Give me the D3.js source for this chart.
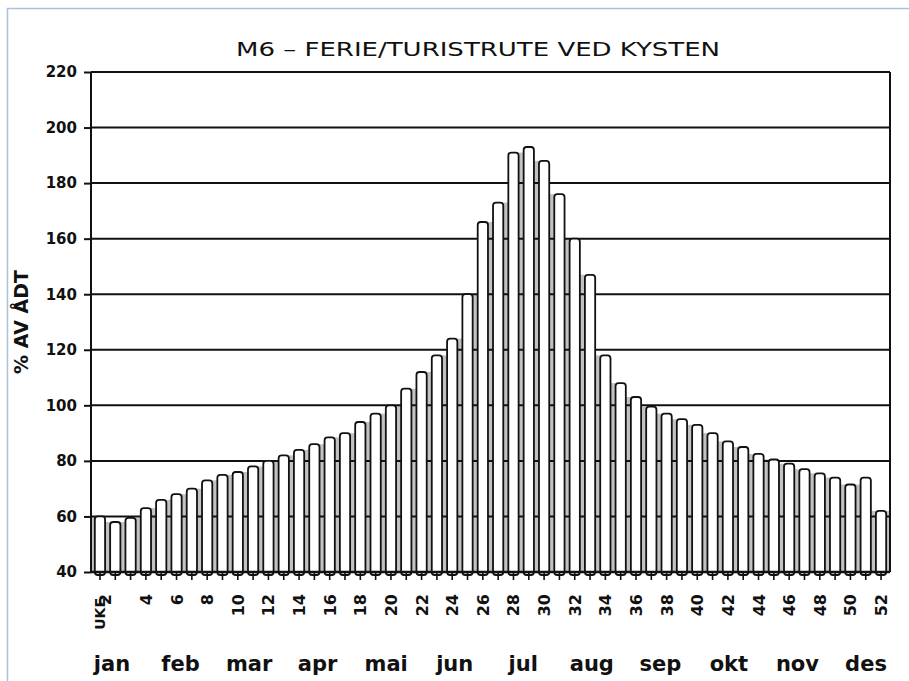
<!DOCTYPE html>
<html lang="no">
<head>
<meta charset="UTF-8">
<title>M6 - Ferie/turistrute ved kysten</title>
<script src="https://cdn.jsdelivr.net/npm/d3@7/dist/d3.min.js"></script>
<style>
  body {
    margin: 0;
    background: #fff;
  }
  svg text {
    fill: #111;
  }
  .title {
    font-family: "DejaVu Sans Condensed", "Liberation Sans Narrow", sans-serif;
    font-size: 20px;
  }
  .ytick, .wtick {
    font-family: "DejaVu Sans", sans-serif;
    font-weight: bold;
  }
  .month {
    font-family: "DejaVu Sans", sans-serif;
    font-size: 21px;
    font-weight: 600;
  }
</style>
</head>
<body>
<div id="chart"></div>
<script>
  // weekly traffic as % of AADT (uke 1..52)
  var weeks = d3.range(1, 53);
  var values = [
    60, 58, 59.5, 63, 66, 68, 70, 73, 75, 76,
    78, 80, 82, 84, 86, 88.5, 90, 94, 97, 100,
    106, 112, 118, 124, 140, 166, 173, 191, 193, 188,
    176, 160, 147, 118, 108, 103, 99.5, 97, 95, 93,
    90, 87, 85, 82.5, 80.5, 79, 77, 75.5, 74, 71.5,
    74, 62
  ];
  var months = ['jan', 'feb', 'mar', 'apr', 'mai', 'jun', 'jul', 'aug', 'sep', 'okt', 'nov', 'des'];
  var yTicks = [40, 60, 80, 100, 120, 140, 160, 180, 200, 220];
  var weekLabels = weeks.filter(function(w) { return w % 2 === 0; });

  var width = 909, height = 681;
  var margin = {top: 72, right: 19, bottom: 109, left: 91};
  var plotW = width - margin.left - margin.right,
      plotH = height - margin.top - margin.bottom;

  var svg = d3.select('#chart').append('svg')
      .attr('width', width)
      .attr('height', height);

  // light blue frame of the scanned page
  svg.append('rect')
      .attr('x', 7.5).attr('y', 8.5)
      .attr('width', width).attr('height', height)
      .attr('fill', 'none')
      .attr('stroke', '#a9c1d9')
      .attr('stroke-width', 1.5);

  var x = d3.scaleBand()
      .domain(weeks)
      .range([0, plotW])
      .paddingInner(0.33)
      .paddingOuter(0.25);

  var y = d3.scaleLinear()
      .domain([40, 220])
      .range([plotH, 0]);

  var monthX = d3.scalePoint()
      .domain(months)
      .range([21, 775]);

  var g = svg.append('g')
      .attr('transform', 'translate(' + margin.left + ',' + margin.top + ')');

  // grey hatch between bars, up to the lower neighbour
  var gaps = d3.range(0, 53).map(function(i) {
    var left = i > 0 ? values[i - 1] : values[0],
        right = i < 52 ? values[i] : values[51];
    return {
      x0: i > 0 ? x(weeks[i - 1]) + x.bandwidth() : 0,
      x1: i < 52 ? x(weeks[i]) : plotW,
      v: Math.min(left, right)
    };
  });

  g.selectAll('.gap')
      .data(gaps)
    .enter().append('rect')
      .attr('class', 'gap')
      .attr('x', function(d) { return d.x0; })
      .attr('width', function(d) { return Math.max(0, d.x1 - d.x0); })
      .attr('y', function(d) { return y(d.v); })
      .attr('height', function(d) { return y(40) - y(d.v); })
      .attr('fill', '#c2c2c2');

  // horizontal grid lines
  g.selectAll('.grid')
      .data(yTicks.slice(1))
    .enter().append('line')
      .attr('class', 'grid')
      .attr('x1', 0).attr('x2', plotW)
      .attr('y1', function(d) { return y(d); })
      .attr('y2', function(d) { return y(d); })
      .attr('stroke', '#111')
      .attr('stroke-width', 2);

  // bars
  g.selectAll('.bar')
      .data(values)
    .enter().append('rect')
      .attr('class', 'bar')
      .attr('x', function(d, i) { return x(weeks[i]); })
      .attr('width', x.bandwidth())
      .attr('y', function(d) { return y(d); })
      .attr('height', function(d) { return y(40) - y(d) + 3; })
      .attr('rx', 3)
      .attr('fill', '#fff')
      .attr('stroke', '#111')
      .attr('stroke-width', 1.8);

  // frame: left axis, right border, baseline
  g.append('line')
      .attr('x1', 0).attr('x2', 0).attr('y1', 0).attr('y2', plotH)
      .attr('stroke', '#111').attr('stroke-width', 2);
  g.append('line')
      .attr('x1', plotW).attr('x2', plotW).attr('y1', 0).attr('y2', plotH)
      .attr('stroke', '#111').attr('stroke-width', 2);
  g.append('line')
      .attr('x1', 0).attr('x2', plotW).attr('y1', plotH).attr('y2', plotH)
      .attr('stroke', '#111').attr('stroke-width', 2.5);

  // y axis
  var yAxis = g.append('g')
      .call(d3.axisLeft(y).tickValues(yTicks).tickSize(7).tickPadding(7));
  yAxis.select('.domain').remove();
  yAxis.selectAll('line').attr('stroke', '#111').attr('stroke-width', 2);
  yAxis.selectAll('text')
      .attr('class', 'ytick')
      .style('font-size', '15px')
      .attr('fill', '#111');

  // week ticks
  var xAxis = g.append('g')
      .attr('transform', 'translate(0,' + plotH + ')')
      .call(d3.axisBottom(x).tickSize(8).tickFormat(''));
  xAxis.select('.domain').remove();
  xAxis.selectAll('line').attr('stroke', '#111').attr('stroke-width', 1.6);

  // week numbers, rotated
  g.selectAll('.wtick')
      .data(weekLabels)
    .enter().append('text')
      .attr('class', 'wtick')
      .attr('transform', function(d) {
        var cx = x(d) + x.bandwidth() / 2 + (d === 2 ? -10 : 0);
        return 'translate(' + (cx + 6) + ',' + (plotH + 22) + ') rotate(-90)';
      })
      .attr('text-anchor', 'end')
      .style('font-size', '16px')
      .text(function(d) { return d; });

  g.append('text')
      .attr('class', 'wtick')
      .attr('transform', 'translate(' + (x(1) + x.bandwidth() / 2 + 5) + ',' + (plotH + 26) + ') rotate(-90)')
      .attr('text-anchor', 'end')
      .style('font-size', '14px')
      .text('UKE');

  // months
  g.selectAll('.month')
      .data(months)
    .enter().append('text')
      .attr('class', 'month')
      .attr('x', function(d) { return monthX(d); })
      .attr('y', plotH + 99)
      .attr('text-anchor', 'middle')
      .text(function(d) { return d; });

  // y label
  svg.append('text')
      .attr('class', 'ytick')
      .attr('transform', 'translate(28,322) rotate(-90)')
      .attr('text-anchor', 'middle')
      .style('font-size', '19px')
      .text('% AV ÅDT');

  // title
  svg.append('text')
      .attr('class', 'title')
      .attr('x', 478)
      .attr('y', 56)
      .attr('text-anchor', 'middle')
      .attr('textLength', 484)
      .attr('lengthAdjust', 'spacingAndGlyphs')
      .text('M6 – FERIE/TURISTRUTE VED KYSTEN');
</script>
</body>
</html>
